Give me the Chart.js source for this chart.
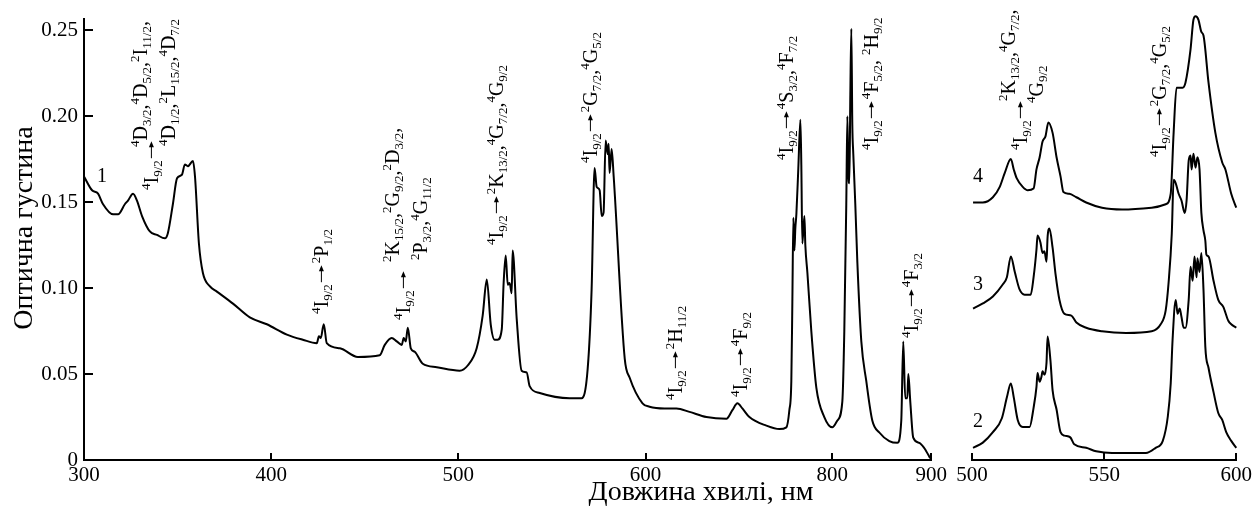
<!DOCTYPE html>
<html>
<head>
<meta charset="utf-8">
<script src="https://cdn.jsdelivr.net/npm/chart.js@4/dist/chart.umd.min.js"></script>
<style>
    html, body { margin: 0; padding: 0; background: #fff; }
    #wrap { position: relative; width: 1255px; height: 510px; overflow: hidden; }
    canvas { position: absolute; top: 0; }
</style>
</head>
<body>
<div id="wrap">
    <canvas id="chart_main" width="950" height="510" style="left:0"></canvas>
    <canvas id="chart_zoom" width="305" height="510" style="left:950px"></canvas>
</div>
<script>
// curve 1, full range (nm / optical density)
const wl1 = [
    300, 304.3, 307.5, 310.1, 315.5, 318.2, 321.9, 323.5, 326.2, 328.3,
    331.0, 335.2, 339.0, 343.2, 344.8, 347.5, 349.7, 352.3, 353.9, 355.5,
    358.2, 359.3, 361.4, 363.5, 367.3, 371.0, 379.6, 388.6, 397.7, 408.4,
    416.9, 424.4, 425.5, 426.5, 428.1, 429.7, 436.7, 446.3, 458.0, 460.7,
    464.4, 467.1, 469.8, 470.8, 471.9, 473.0, 474.6, 476.7, 481.0, 488.5,
    500.7, 505.0, 509.8, 513.0, 515.2, 517.3, 519.4, 521.0, 523.2, 524.2,
    525.3, 526.4, 527.4, 528.5, 529.0, 531.2, 533.8, 536.5, 538.1, 543.5,
    559.5, 565.9, 569.1, 571.2, 572.8, 573.9, 575.5, 576.6, 577.6, 578.7,
    579.8, 580.3, 580.8, 581.9, 583.0, 588.9, 591.5, 598.4, 604.3, 620.3,
    627.8, 633.2, 647.1, 665.2, 686.6, 693.0, 698.4, 703.7, 711.2, 729.4,
    743.3, 750.8, 754.0, 756.1, 757.2, 758.3, 759.4, 760.4, 761.5, 763.6,
    765.8, 766.8, 767.9, 770.1, 771.1, 773.3, 777.5, 782.9, 791.4, 800.0,
    805.1, 810.1, 812.1, 814.1, 815.2, 816.2, 817.2, 818.2, 819.2, 820.2,
    821.2, 823.2, 825.3, 829.3, 834.3, 840.4, 847.5, 857.6, 865.7, 869.7,
    871.7, 873.7, 875.8, 876.8, 878.8, 881.8, 887.9, 892.9, 897.0, 899.0
];
const od1 = [
    0.165, 0.157, 0.155, 0.149, 0.143, 0.143, 0.149, 0.151, 0.155, 0.151,
    0.142, 0.133, 0.131, 0.129, 0.132, 0.149, 0.164, 0.166, 0.172, 0.171,
    0.174, 0.165, 0.126, 0.109, 0.101, 0.098, 0.091, 0.083, 0.079, 0.073,
    0.070, 0.068, 0.072, 0.071, 0.079, 0.068, 0.065, 0.060, 0.061, 0.067,
    0.071, 0.069, 0.067, 0.071, 0.069, 0.077, 0.065, 0.063, 0.056, 0.054,
    0.052, 0.055, 0.065, 0.084, 0.105, 0.079, 0.070, 0.070, 0.076, 0.103,
    0.119, 0.102, 0.103, 0.097, 0.122, 0.082, 0.052, 0.051, 0.043, 0.039,
    0.036, 0.036, 0.053, 0.099, 0.170, 0.159, 0.157, 0.142, 0.144, 0.186,
    0.178, 0.184, 0.167, 0.181, 0.165, 0.059, 0.048, 0.033, 0.031, 0.030,
    0.030, 0.030, 0.028, 0.025, 0.024, 0.029, 0.033, 0.030, 0.025, 0.020,
    0.018, 0.019, 0.029, 0.046, 0.092, 0.141, 0.122, 0.135, 0.143, 0.170,
    0.198, 0.172, 0.126, 0.142, 0.125, 0.109, 0.075, 0.042, 0.025, 0.019,
    0.023, 0.034, 0.075, 0.149, 0.200, 0.167, 0.161, 0.213, 0.251, 0.195,
    0.178, 0.149, 0.115, 0.069, 0.046, 0.023, 0.016, 0.011, 0.010, 0.023,
    0.069, 0.036, 0.036, 0.050, 0.034, 0.013, 0.010, 0.007, 0.003, 0.001
];

// curves 2-4, 500-600 nm (stacked, already offset as in the figure)
const wl2 = [
    500.4, 504.1, 507.9, 511.3, 513.2, 514.7, 515.8, 517.3, 519.2, 521.8,
    523.3, 524.4, 524.8, 525.6, 526.3, 526.7, 527.4, 528.2, 528.6, 529.7,
    530.5, 532.0, 533.5, 535.0, 537.2, 538.7, 543.2, 547.0, 553.0, 565.8,
    569.5, 572.2, 574.1, 575.2, 575.9, 577.1, 577.8, 578.6, 579.3, 580.1,
    580.8, 582.0, 582.7, 583.5, 584.2, 585.0, 585.3, 586.1, 586.8, 587.6,
    588.3, 589.5, 591.4, 593.2, 594.7, 596.2, 598.1, 600.0
];
const od2 = [
    0.007, 0.010, 0.016, 0.024, 0.036, 0.044, 0.036, 0.023, 0.019, 0.019,
    0.030, 0.042, 0.050, 0.045, 0.048, 0.051, 0.049, 0.056, 0.071, 0.057,
    0.040, 0.029, 0.016, 0.014, 0.013, 0.009, 0.007, 0.005, 0.004, 0.004,
    0.007, 0.011, 0.025, 0.044, 0.069, 0.092, 0.084, 0.087, 0.082, 0.076,
    0.076, 0.092, 0.111, 0.103, 0.117, 0.105, 0.116, 0.108, 0.119, 0.098,
    0.065, 0.053, 0.039, 0.027, 0.023, 0.016, 0.011, 0.007
];
const wl3 = [
    500.4, 504.1, 507.9, 511.7, 513.2, 514.7, 516.2, 518.0, 519.9, 522.2,
    523.3, 524.4, 524.8, 525.9, 526.7, 527.4, 528.2, 528.6, 529.3, 530.5,
    531.6, 533.1, 535.0, 537.6, 539.5, 543.2, 549.2, 558.3, 568.0, 571.4,
    573.3, 574.4, 575.6, 576.3, 577.1, 578.2, 579.3, 580.5, 581.2, 582.0,
    582.7, 583.1, 583.8, 584.6, 585.3, 586.1, 586.8, 587.6, 588.3, 588.7,
    589.5, 591.4, 593.2, 595.1, 597.0, 598.1, 600.0
];
const od3 = [
    0.087, 0.090, 0.094, 0.101, 0.105, 0.117, 0.108, 0.098, 0.095, 0.095,
    0.105, 0.121, 0.129, 0.125, 0.119, 0.120, 0.114, 0.128, 0.133, 0.122,
    0.107, 0.092, 0.084, 0.083, 0.079, 0.076, 0.074, 0.073, 0.074, 0.078,
    0.086, 0.102, 0.130, 0.161, 0.159, 0.153, 0.149, 0.142, 0.149, 0.172,
    0.175, 0.167, 0.176, 0.168, 0.174, 0.167, 0.142, 0.132, 0.126, 0.118,
    0.117, 0.103, 0.092, 0.088, 0.080, 0.078, 0.076
];
const wl4 = [
    500.4, 504.1, 507.9, 510.5, 512.4, 514.7, 515.8, 516.9, 519.2, 521.1,
    523.3, 524.4, 525.6, 526.7, 527.8, 528.9, 530.5, 532.0, 533.5, 534.6,
    536.8, 539.5, 543.2, 549.2, 556.8, 568.0, 573.3, 575.2, 576.3, 577.4,
    578.9, 579.7, 580.8, 582.7, 583.8, 584.6, 585.7, 586.8, 587.6, 589.5,
    592.1, 594.7, 595.9, 598.1, 600.0
];
const od4 = [
    0.148, 0.148, 0.151, 0.157, 0.165, 0.173, 0.167, 0.162, 0.157, 0.155,
    0.156, 0.167, 0.174, 0.183, 0.186, 0.194, 0.188, 0.174, 0.163, 0.154,
    0.153, 0.151, 0.148, 0.145, 0.144, 0.145, 0.147, 0.153, 0.188, 0.214,
    0.214, 0.214, 0.217, 0.236, 0.253, 0.255, 0.253, 0.246, 0.244, 0.217,
    0.188, 0.171, 0.167, 0.153, 0.145
];

const xTicksMain = [300, 400, 500, 600, 800, 900];
const xTicksZoom = [500, 550, 600];
const yTicks = [0, 0.05, 0.10, 0.15, 0.20, 0.25];

// the wavelength axis of the big panel is stretched piecewise
const X_BREAK_NM = [300, 600, 800, 900];
const X_BREAK_POS = [0, 562 / 848, 749 / 848, 1];

function warp(v) {
    for (let i = 1; i < X_BREAK_NM.length; i++) {
        if (v <= X_BREAK_NM[i] || i === X_BREAK_NM.length - 1) {
            const t = (v - X_BREAK_NM[i - 1]) / (X_BREAK_NM[i] - X_BREAK_NM[i - 1]);
            return X_BREAK_POS[i - 1] + t * (X_BREAK_POS[i] - X_BREAK_POS[i - 1]);
        }
    }
}
function unwarp(d) {
    for (let i = 1; i < X_BREAK_POS.length; i++) {
        if (d <= X_BREAK_POS[i] || i === X_BREAK_POS.length - 1) {
            const t = (d - X_BREAK_POS[i - 1]) / (X_BREAK_POS[i] - X_BREAK_POS[i - 1]);
            return X_BREAK_NM[i - 1] + t * (X_BREAK_NM[i] - X_BREAK_NM[i - 1]);
        }
    }
}

class WarpScale extends Chart.LinearScale {
    getPixelForValue(v) { return v == null ? NaN : this.getPixelForDecimal(warp(v)); }
    getValueForPixel(p) { return unwarp(this.getDecimalForPixel(p)); }
}
WarpScale.id = 'warp';
WarpScale.defaults = Chart.LinearScale.defaults;
Chart.register(WarpScale);

const FONT = '"Liberation Serif", "Times New Roman", serif';
const Y_MAX = 0.2569;

// text with ^{sup} _{sub} and an arrow, written bottom-to-top
function drawRich(ctx, x, y, markup, size) {
    const small = Math.round(size * 0.64);
    ctx.save();
    ctx.translate(x, y);
    ctx.rotate(-Math.PI / 2);
    ctx.fillStyle = '#000';
    ctx.strokeStyle = '#000';
    ctx.textBaseline = 'alphabetic';
    ctx.textAlign = 'left';
    const re = /\^\{([^}]*)\}|_\{([^}]*)\}|(→)|([^^_→]+)/g;
    let pen = 0, m;
    while ((m = re.exec(markup))) {
        if (m[1] !== undefined) {
            ctx.font = small + 'px ' + FONT;
            ctx.fillText(m[1], pen, -size * 0.42);
            pen += ctx.measureText(m[1]).width;
        } else if (m[2] !== undefined) {
            ctx.font = small + 'px ' + FONT;
            ctx.fillText(m[2], pen, size * 0.2);
            pen += ctx.measureText(m[2]).width;
        } else if (m[3]) {
            const h = -size * 0.33;
            ctx.lineWidth = 1;
            ctx.beginPath();
            ctx.moveTo(pen + 2, h);
            ctx.lineTo(pen + 15, h);
            ctx.stroke();
            ctx.beginPath();
            ctx.moveTo(pen + 19, h);
            ctx.lineTo(pen + 13, h - 2.5);
            ctx.lineTo(pen + 13, h + 2.5);
            ctx.closePath();
            ctx.fill();
            pen += 21;
        } else {
            ctx.font = size + 'px ' + FONT;
            ctx.fillText(m[4], pen, 0);
            pen += ctx.measureText(m[4]).width;
        }
    }
    ctx.restore();
}

// inward tick marks + all the annotation text
const decor = {
    id: 'decor',
    afterDraw(chart, args, opts) {
        const ctx = chart.ctx;
        const xs = chart.scales.x, ys = chart.scales.y;
        const area = chart.chartArea;
        ctx.save();
        ctx.strokeStyle = '#000';
        ctx.lineWidth = 2;
        xs.ticks.forEach(t => {
            const px = Math.round(xs.getPixelForValue(t.value));
            ctx.beginPath();
            ctx.moveTo(px, area.bottom);
            ctx.lineTo(px, area.bottom - 7);
            ctx.stroke();
        });
        if (ys.options.display) {
            ys.ticks.forEach(t => {
                const py = Math.round(ys.getPixelForValue(t.value));
                ctx.beginPath();
                ctx.moveTo(area.left, py);
                ctx.lineTo(area.left + 9, py);
                ctx.stroke();
            });
        }
        const dx = opts.offset;
        (opts.notes || []).forEach(n => drawRich(ctx, n[0] - dx, n[1], n[2], 20));
        ctx.fillStyle = '#000';
        ctx.font = '20px ' + FONT;
        ctx.textAlign = 'left';
        ctx.textBaseline = 'alphabetic';
        (opts.plain || []).forEach(p => ctx.fillText(p[2], p[0] - dx, p[1]));
        if (opts.yTitle) {
            ctx.save();
            ctx.font = '28px ' + FONT;
            ctx.textAlign = 'center';
            ctx.translate(opts.yTitle[0], opts.yTitle[1]);
            ctx.rotate(-Math.PI / 2);
            ctx.fillText(opts.yTitle[2], 0, 0);
            ctx.restore();
        }
        if (opts.xTitle) {
            ctx.font = '28px ' + FONT;
            ctx.textAlign = 'center';
            ctx.fillText(opts.xTitle[2], opts.xTitle[0], opts.xTitle[1]);
        }
        ctx.restore();
    }
};

function lineSet(wl, od) {
    return {
        data: wl.map((w, i) => ({ x: w, y: od[i] })),
        borderColor: '#000',
        borderWidth: 2,
        pointRadius: 0,
        cubicInterpolationMode: 'monotone',
        fill: false,
        clip: false
    };
}

const tickFont = { family: FONT, size: 21 };

new Chart(document.getElementById('chart_main'), {
    type: 'line',
    data: { datasets: [lineSet(wl1, od1)] },
    options: {
        responsive: false,
        animation: false,
        layout: { padding: { left: 0, right: 18, top: 13, bottom: 0 } },
        plugins: {
            legend: { display: false },
            tooltip: { enabled: false },
            decor: {
                offset: 0,
                yTitle: [32, 228, 'Оптична густина'],
                xTitle: [701, 500, 'Довжина хвилі, нм'],
                plain: [[97, 182, '1']],
                notes: [
                    [158, 190, '^{4}I_{9/2}→'],
                    [147, 147, '^{4}D_{3/2},^{4}D_{5/2},^{2}I_{11/2},'],
                    [175, 146, '^{4}D_{1/2},^{2}L_{15/2},^{4}D_{7/2}'],
                    [328, 314, '^{4}I_{9/2}→^{2}P_{1/2}'],
                    [410, 320, '^{4}I_{9/2}→'],
                    [399, 262, '^{2}K_{15/2},^{2}G_{9/2},^{2}D_{3/2},'],
                    [427, 260, '^{2}P_{3/2},^{4}G_{11/2}'],
                    [503, 245, '^{4}I_{9/2}→^{2}K_{13/2},^{4}G_{7/2},^{4}G_{9/2}'],
                    [597, 163, '^{4}I_{9/2}→^{2}G_{7/2},^{4}G_{5/2}'],
                    [682, 400, '^{4}I_{9/2}→^{2}H_{11/2}'],
                    [747, 397, '^{4}I_{9/2}→^{4}F_{9/2}'],
                    [793, 160, '^{4}I_{9/2}→^{4}S_{3/2},^{4}F_{7/2}'],
                    [878, 150, '^{4}I_{9/2}→^{4}F_{5/2}, ^{2}H_{9/2}'],
                    [918, 338, '^{4}I_{9/2}→^{4}F_{3/2}']
                ]
            }
        },
        scales: {
            x: {
                type: 'warp',
                min: 300,
                max: 900,
                afterBuildTicks: s => { s.ticks = xTicksMain.map(v => ({ value: v })); },
                afterFit: s => { s.height = 50; },
                grid: { display: false, drawTicks: false },
                border: { display: true, color: '#000', width: 2 },
                ticks: { color: '#000', font: tickFont, padding: 3, maxRotation: 0, callback: v => String(v) }
            },
            y: {
                min: 0,
                max: Y_MAX,
                afterBuildTicks: s => { s.ticks = yTicks.map(v => ({ value: v })); },
                afterFit: s => { s.width = 84; },
                grid: { display: false, drawTicks: false },
                border: { display: true, color: '#000', width: 2 },
                ticks: { color: '#000', font: tickFont, padding: 6, callback: v => v === 0 ? '0' : v.toFixed(2) }
            }
        }
    },
    plugins: [decor]
});

new Chart(document.getElementById('chart_zoom'), {
    type: 'line',
    data: { datasets: [lineSet(wl2, od2), lineSet(wl3, od3), lineSet(wl4, od4)] },
    options: {
        responsive: false,
        animation: false,
        layout: { padding: { left: 22, right: 17, top: 13, bottom: 0 } },
        plugins: {
            legend: { display: false },
            tooltip: { enabled: false },
            decor: {
                offset: 950,
                plain: [[973, 182, '4'], [973, 290, '3'], [973, 427, '2']],
                notes: [
                    [1027, 150, '^{4}I_{9/2}→'],
                    [1015, 101, '^{2}K_{13/2},^{4}G_{7/2},'],
                    [1043, 103, '^{4}G_{9/2}'],
                    [1166, 157, '^{4}I_{9/2}→^{2}G_{7/2},^{4}G_{5/2}']
                ]
            }
        },
        scales: {
            x: {
                type: 'linear',
                min: 500,
                max: 600,
                afterBuildTicks: s => { s.ticks = xTicksZoom.map(v => ({ value: v })); },
                afterFit: s => { s.height = 50; },
                grid: { display: false, drawTicks: false },
                border: { display: true, color: '#000', width: 2 },
                ticks: { color: '#000', font: tickFont, padding: 3, maxRotation: 0, callback: v => String(v) }
            },
            y: {
                display: false,
                min: 0,
                max: Y_MAX
            }
        }
    },
    plugins: [decor]
});
</script>
</body>
</html>
